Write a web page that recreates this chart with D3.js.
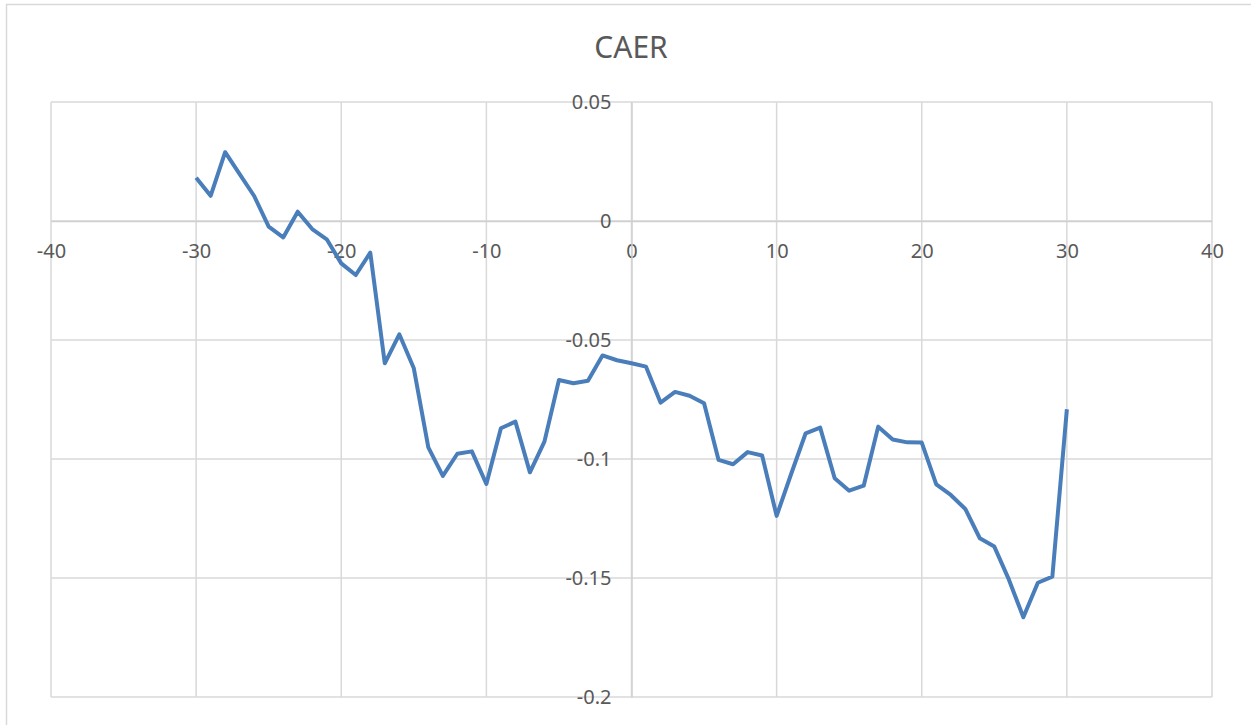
<!DOCTYPE html>
<html>
<head>
<meta charset="utf-8">
<script src="https://cdn.jsdelivr.net/npm/d3@7"></script>
<style>
  html, body { margin: 0; padding: 0; background: #ffffff; }
  svg { display: block; }
</style>
</head>
<body>
<svg id="chart" width="1251" height="725"></svg>
<script>
// Event-window days and cumulative abnormal excess return
const days = [-30, -29, -28, -27, -26, -25, -24, -23, -22, -21, -20, -19, -18, -17, -16, -15,
  -14, -13, -12, -11, -10, -9, -8, -7, -6, -5, -4, -3, -2, -1, 0,
  1, 2, 3, 4, 5, 6, 7, 8, 9, 10, 11, 12, 13, 14, 15,
  16, 17, 18, 19, 20, 21, 22, 23, 24, 25, 26, 27, 28, 29, 30];
const caer = [0.0182, 0.0106, 0.0289, 0.0197, 0.0105, -0.0024, -0.0069, 0.0039, -0.0034, -0.0077,
  -0.0178, -0.0227, -0.0133, -0.0598, -0.0476, -0.0619, -0.0951, -0.1071, -0.0978, -0.0968,
  -0.1105, -0.0871, -0.0843, -0.1056, -0.0927, -0.0668, -0.0682, -0.0671, -0.0565, -0.0585, -0.0598,
  -0.0612, -0.0763, -0.0718, -0.0734, -0.0766, -0.1004, -0.1022, -0.0971, -0.0985, -0.1239,
  -0.1063, -0.0892, -0.0868, -0.1081, -0.1133, -0.1112, -0.0864, -0.0918, -0.0930, -0.0931,
  -0.1107, -0.1151, -0.1210, -0.1333, -0.1368, -0.1506, -0.1665, -0.1520, -0.1494, -0.0791];
const xTicks = [-40, -30, -20, -10, 0, 10, 20, 30, 40];
const yTicks = [0.05, 0, -0.05, -0.1, -0.15, -0.2];
const title = "CAER";

const svg = d3.select("#chart");
const font = "'Noto Sans', 'Open Sans', sans-serif";
const textColor = "#595959";
const gridColor = "#d9d9d9";

// Outer chart frame
svg.append("rect")
  .attr("x", 6.5).attr("y", 4.5)
  .attr("width", 1260).attr("height", 740)
  .attr("fill", "#ffffff")
  .attr("stroke", gridColor).attr("stroke-width", 1.5);

const plot = { left: 51, right: 1212, top: 102, bottom: 697 };

const x = d3.scaleLinear().domain([-40, 40]).range([plot.left, plot.right]);
const y = d3.scaleLinear().domain([-0.2, 0.05]).range([plot.bottom, plot.top]);

// Gridlines
const grid = svg.append("g").attr("stroke", gridColor).attr("stroke-width", 1.5);
grid.selectAll("line.v").data(xTicks).join("line")
  .attr("class", "v")
  .attr("x1", d => x(d)).attr("x2", d => x(d))
  .attr("y1", plot.top).attr("y2", plot.bottom);
grid.selectAll("line.h").data(yTicks).join("line")
  .attr("class", "h")
  .attr("x1", plot.left).attr("x2", plot.right)
  .attr("y1", d => y(d)).attr("y2", d => y(d));

// Axes crossing at the origin (plain hyphen for negatives)
const xAxis = d3.axisBottom(x).tickValues(xTicks).tickSize(0).tickPadding(22)
  .tickFormat(d => String(d));
const gx = svg.append("g").attr("transform", `translate(0,${y(0)})`).call(xAxis);
gx.select(".domain").attr("stroke", "#d0d0d0").attr("stroke-width", 1.5);
gx.selectAll("text").attr("fill", textColor).attr("font-family", font).attr("font-size", 20)
  .attr("dy", "0.32em").attr("y", 31);

const yAxis = d3.axisLeft(y).tickValues(yTicks).tickSize(0).tickPadding(20)
  .tickFormat(d => String(d));
const gy = svg.append("g").attr("transform", `translate(${x(0)},0)`).call(yAxis);
gy.select(".domain").attr("stroke", "#d0d0d0").attr("stroke-width", 1.5);
gy.selectAll("text").attr("fill", textColor).attr("font-family", font).attr("font-size", 20);

// Series line
const line = d3.line().x((d, i) => x(days[i])).y(d => y(d));
svg.append("path")
  .datum(caer)
  .attr("d", line)
  .attr("fill", "none")
  .attr("stroke", "#4a7ebb")
  .attr("stroke-width", 4)
  .attr("stroke-linejoin", "round");

// Title
svg.append("text")
  .attr("x", 631).attr("y", 47)
  .attr("dy", "0.35em")
  .attr("text-anchor", "middle")
  .attr("fill", textColor)
  .attr("font-family", font)
  .attr("font-size", 30)
  .text(title);
</script>
</body>
</html>
